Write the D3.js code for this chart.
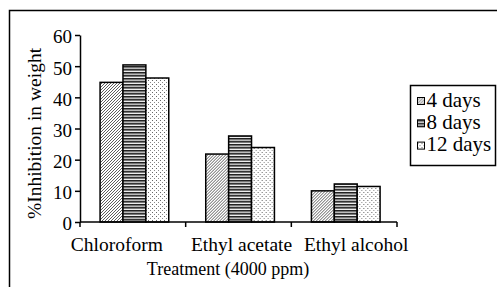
<!DOCTYPE html>
<html>
<head>
<meta charset="utf-8">
<script src="https://cdn.jsdelivr.net/npm/d3@7"></script>
<style>
  body { margin: 0; background: #fff; }
  text { font-family: "Liberation Serif", "Times New Roman", serif; fill: #000; }
  .axis path, .axis line { stroke: #000; stroke-width: 1.5; }
</style>
</head>
<body>
<div id="chart"></div>
<script>
  const categories = ["Chloroform", "Ethyl acetate", "Ethyl alcohol"];
  const series = ["4 days", "8 days", "12 days"];
  const days4 = [44.8, 21.8, 10.0];
  const days8 = [50.4, 27.6, 12.2];
  const days12 = [46.2, 23.9, 11.4];
  const yTicks = [0, 10, 20, 30, 40, 50, 60];

  const values = [days4, days8, days12];

  const W = 497, H = 287;
  const margin = { top: 35, right: 100, bottom: 65, left: 80 };

  const svg = d3.select("#chart")
    .append("svg")
      .attr("width", W)
      .attr("height", H);

  const defs = svg.append("defs");

  // 4 days: diagonal hatching
  const p1 = defs.append("pattern")
    .attr("id", "pat0")
    .attr("patternUnits", "userSpaceOnUse")
    .attr("width", 3).attr("height", 3);
  p1.append("rect").attr("width", 3).attr("height", 3).attr("fill", "#fff");
  p1.append("path")
    .attr("d", "M-1,1 l2,-2 M0,3 l3,-3 M2,4 l2,-2")
    .attr("stroke", "#333").attr("stroke-width", 0.8);

  // 8 days: horizontal stripes
  const p2 = defs.append("pattern")
    .attr("id", "pat1")
    .attr("patternUnits", "userSpaceOnUse")
    .attr("width", 4).attr("height", 6);
  p2.append("rect").attr("width", 4).attr("height", 6).attr("fill", "#777");
  p2.append("rect").attr("y", 0).attr("width", 4).attr("height", 1).attr("fill", "#222");
  p2.append("rect").attr("y", 2).attr("width", 4).attr("height", 1).attr("fill", "#bbb");
  p2.append("rect").attr("y", 3).attr("width", 4).attr("height", 1).attr("fill", "#333");
  p2.append("rect").attr("y", 5).attr("width", 4).attr("height", 1).attr("fill", "#eee");

  // 12 days: stipple
  const p3 = defs.append("pattern")
    .attr("id", "pat2")
    .attr("patternUnits", "userSpaceOnUse")
    .attr("width", 4).attr("height", 4);
  p3.append("rect").attr("width", 4).attr("height", 4).attr("fill", "#fff");
  p3.append("rect").attr("x", 0).attr("y", 0).attr("width", 1).attr("height", 1).attr("fill", "#666");
  p3.append("rect").attr("x", 2).attr("y", 2).attr("width", 1).attr("height", 1).attr("fill", "#888");

  // outer frame (runs off the right and bottom of the picture)
  svg.append("rect")
    .attr("x", 9.5).attr("y", 10.5)
    .attr("width", 600).attr("height", 400)
    .attr("fill", "none")
    .attr("stroke", "#000")
    .attr("stroke-width", 1.5);

  const x0 = d3.scaleBand()
    .domain(categories)
    .range([margin.left, 397]);

  const x1 = d3.scaleBand()
    .domain(series)
    .range([x0.bandwidth() * 0.19, x0.bandwidth() * 0.84]);

  const y = d3.scaleLinear()
    .domain([0, 60])
    .range([222, margin.top]);

  const groups = svg.append("g")
    .selectAll("g")
    .data(categories)
    .enter().append("g")
      .attr("transform", d => `translate(${x0(d)},0)`);

  groups.selectAll("rect")
    .data((d, i) => series.map((s, j) => ({ s: s, j: j, v: values[j][i] })))
    .enter().append("rect")
      .attr("x", d => x1(d.s))
      .attr("width", x1.bandwidth())
      .attr("y", d => y(d.v))
      .attr("height", d => y(0) - y(d.v))
      .attr("fill", d => `url(#pat${d.j})`)
      .attr("stroke", "#000")
      .attr("stroke-width", 1.5);

  // y axis
  svg.append("g")
    .attr("class", "axis")
    .attr("transform", `translate(${margin.left},0)`)
    .call(d3.axisLeft(y).tickValues(yTicks).tickSize(5).tickPadding(3).tickSizeOuter(0))
    .call(g => g.selectAll("text").attr("font-size", 19).attr("dy", "0.42em"));

  // x axis with ticks at band edges
  const xEdges = categories.map(c => x0(c)).concat([x0.range()[1]]);
  const labelShift = [-16, 3, 12];
  const xa = svg.append("g")
    .attr("class", "axis")
    .attr("transform", `translate(0,${y(0)})`);
  xa.append("line")
    .attr("x1", margin.left).attr("x2", x0.range()[1]);
  xa.selectAll(".tk")
    .data(xEdges)
    .enter().append("line")
      .attr("class", "tk")
      .attr("x1", d => d).attr("x2", d => d)
      .attr("y1", 0).attr("y2", 5);
  xa.selectAll(".cat")
    .data(categories)
    .enter().append("text")
      .attr("class", "cat")
      .attr("x", (d, i) => x0(d) + x0.bandwidth() / 2 + labelShift[i])
      .attr("y", 29)
      .attr("text-anchor", "middle")
      .attr("font-size", 19.5)
      .text(d => d);

  svg.append("text")
    .attr("x", 228)
    .attr("y", 275)
    .attr("text-anchor", "middle")
    .attr("font-size", 18)
    .text("Treatment (4000 ppm)");

  svg.append("text")
    .attr("transform", "translate(41,133.5) rotate(-90)")
    .attr("text-anchor", "middle")
    .attr("font-size", 19.5)
    .text("%Inhibition in weight");

  // legend
  const legend = svg.append("g");
  legend.append("rect")
    .attr("x", 410.5).attr("y", 85.5)
    .attr("width", 85).attr("height", 80)
    .attr("fill", "#fff")
    .attr("stroke", "#000")
    .attr("stroke-width", 1.5);

  const items = legend.selectAll(".item")
    .data(series)
    .enter().append("g")
      .attr("class", "item")
      .attr("transform", (d, i) => `translate(417.5,${106.5 + i * 22.3})`);
  items.append("rect")
    .attr("y", -9)
    .attr("width", 7).attr("height", 7)
    .attr("fill", (d, i) => `url(#pat${i})`)
    .attr("stroke", "#000")
    .attr("stroke-width", 1);
  items.append("text")
    .attr("x", 9)
    .attr("y", 0)
    .attr("font-size", 21)
    .text(d => d);
</script>
</body>
</html>
